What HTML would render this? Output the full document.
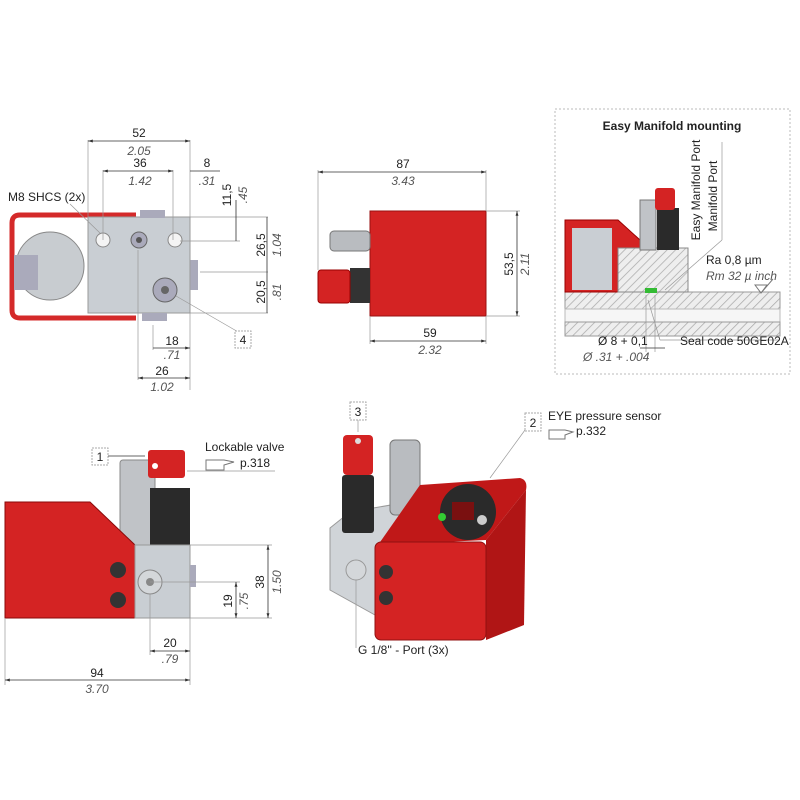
<!DOCTYPE html>
<html><head><meta charset="utf-8"><style>
body{margin:0;background:#fff}
svg{display:block}
text{font-family:"Liberation Sans",sans-serif;font-size:12px;fill:#222}
.i{font-style:italic;fill:#555}
.d{stroke:#333;stroke-width:0.8;fill:none}
.e{stroke:#999;stroke-width:0.7;fill:none}
</style></head><body>
<svg width="800" height="800" viewBox="0 0 800 800">
<defs>
<pattern id="h" width="6" height="6" patternUnits="userSpaceOnUse" patternTransform="rotate(45)"><rect width="6" height="6" fill="#eee"/><line x1="0" y1="0" x2="0" y2="6" stroke="#aaa" stroke-width="1.5"/></pattern>
<marker id="a" viewBox="0 0 10 10" refX="10" refY="5" markerWidth="6" markerHeight="6" orient="auto-start-reverse"><path d="M0,2L10,5L0,8z" fill="#333"/></marker>
</defs>

<!-- TOP LEFT VIEW -->
<path d="M136,215 H20 Q12,215 12,223 V310 Q12,318 20,318 H136" fill="none" stroke="#d42a2a" stroke-width="5"/>
<circle cx="50" cy="266" r="34" fill="#c8ccd0" stroke="#888"/>
<rect x="14" y="255" width="24" height="35" fill="#aab" />
<rect x="88" y="217" width="102" height="96" fill="#c9ced3" stroke="#999"/>
<rect x="140" y="210" width="25" height="8" fill="#aab"/>
<rect x="142" y="313" width="25" height="8" fill="#aab"/>
<rect x="190" y="260" width="8" height="30" fill="#aab"/>
<circle cx="103" cy="240" r="7" fill="#f4f4f4" stroke="#888"/>
<circle cx="175" cy="240" r="7" fill="#f4f4f4" stroke="#888"/>
<circle cx="139" cy="240" r="8" fill="#aab" stroke="#666"/>
<circle cx="139" cy="240" r="3" fill="#555"/>
<circle cx="165" cy="290" r="12" fill="#aab" stroke="#666"/>
<circle cx="165" cy="290" r="4" fill="#666"/>
<line class="e" x1="88" y1="140" x2="88" y2="217"/><line class="e" x1="190" y1="140" x2="190" y2="390"/>
<line class="d" x1="88" y1="141" x2="190" y2="141" marker-start="url(#a)" marker-end="url(#a)"/>
<text x="139" y="137" text-anchor="middle">52</text><text class="i" x="139" y="155" text-anchor="middle">2.05</text>
<line class="e" x1="103" y1="170" x2="103" y2="240"/><line class="e" x1="173" y1="170" x2="173" y2="240"/>
<line class="d" x1="103" y1="171" x2="173" y2="171" marker-start="url(#a)" marker-end="url(#a)"/>
<line class="d" x1="190" y1="171" x2="220" y2="171"/>
<text x="140" y="167" text-anchor="middle">36</text><text class="i" x="140" y="185" text-anchor="middle">1.42</text>
<text x="207" y="167" text-anchor="middle">8</text><text class="i" x="207" y="185" text-anchor="middle">.31</text>
<text x="8" y="201" font-size="12">M8 SHCS (2x)</text>
<line class="e" x1="70" y1="204" x2="100" y2="233"/>
<line class="e" x1="190" y1="217" x2="268" y2="217"/><line class="e" x1="180" y1="241" x2="240" y2="241"/>
<line class="e" x1="200" y1="272" x2="268" y2="272"/><line class="e" x1="190" y1="313" x2="268" y2="313"/>
<line class="d" x1="236" y1="200" x2="236" y2="241"/>
<line class="d" x1="267" y1="217" x2="267" y2="313"/>
<text transform="translate(231,195) rotate(-90)" text-anchor="middle">11,5</text>
<text class="i" transform="translate(247,195) rotate(-90)" text-anchor="middle">.45</text>
<text transform="translate(265,245) rotate(-90)" text-anchor="middle">26,5</text>
<text class="i" transform="translate(281,245) rotate(-90)" text-anchor="middle">1.04</text>
<text transform="translate(265,292) rotate(-90)" text-anchor="middle">20,5</text>
<text class="i" transform="translate(281,292) rotate(-90)" text-anchor="middle">.81</text>
<line class="e" x1="138" y1="250" x2="138" y2="380"/><line class="e" x1="153" y1="325" x2="153" y2="350"/>
<line class="d" x1="153" y1="348" x2="190" y2="348" marker-end="url(#a)"/>
<text x="172" y="345" text-anchor="middle">18</text><text class="i" x="172" y="359" text-anchor="middle">.71</text>
<line class="d" x1="138" y1="378" x2="190" y2="378" marker-start="url(#a)" marker-end="url(#a)"/>
<text x="162" y="375" text-anchor="middle">26</text><text class="i" x="162" y="391" text-anchor="middle">1.02</text>
<line class="e" x1="176" y1="296" x2="240" y2="333"/>
<rect x="235" y="331" width="16" height="17" fill="#fff" stroke="#aaa" stroke-dasharray="2,1"/>
<text x="243" y="344" text-anchor="middle">4</text>

<!-- TOP MIDDLE VIEW -->
<rect x="370" y="211" width="116" height="105" fill="#d42323" stroke="#9a1010"/>
<rect x="330" y="231" width="40" height="20" rx="4" fill="#b9bcc0" stroke="#777"/>
<rect x="350" y="268" width="20" height="35" fill="#333"/>
<rect x="318" y="270" width="32" height="33" rx="3" fill="#d42323" stroke="#900"/>
<line class="e" x1="318" y1="170" x2="318" y2="270"/><line class="e" x1="486" y1="170" x2="486" y2="211"/>
<line class="d" x1="318" y1="172" x2="486" y2="172" marker-start="url(#a)" marker-end="url(#a)"/>
<text x="403" y="168" text-anchor="middle">87</text><text class="i" x="403" y="185" text-anchor="middle">3.43</text>
<line class="e" x1="486" y1="211" x2="520" y2="211"/><line class="e" x1="486" y1="316" x2="520" y2="316"/>
<line class="d" x1="517" y1="211" x2="517" y2="316" marker-start="url(#a)" marker-end="url(#a)"/>
<text transform="translate(513,264) rotate(-90)" text-anchor="middle">53,5</text>
<text class="i" transform="translate(529,264) rotate(-90)" text-anchor="middle">2.11</text>
<line class="e" x1="370" y1="316" x2="370" y2="344"/><line class="e" x1="486" y1="316" x2="486" y2="344"/>
<line class="d" x1="370" y1="341" x2="486" y2="341" marker-start="url(#a)" marker-end="url(#a)"/>
<text x="430" y="337" text-anchor="middle">59</text><text class="i" x="430" y="354" text-anchor="middle">2.32</text>

<!-- RIGHT PANEL -->
<rect x="555" y="109" width="235" height="265" fill="none" stroke="#bbb" stroke-dasharray="2,2"/>
<text x="672" y="130" text-anchor="middle" font-weight="bold" font-size="13">Easy Manifold mounting</text>
<rect x="565" y="292" width="215" height="17" fill="url(#h)" stroke="#999"/>
<rect x="565" y="309" width="215" height="13" fill="#f6f6f6" stroke="#bbb"/>
<rect x="565" y="322" width="215" height="14" fill="url(#h)" stroke="#999"/>
<path d="M565,220 H618 L640,240 V292 H565Z" fill="#d42323" stroke="#900"/>
<rect x="572" y="228" width="40" height="62" fill="#c9ced3"/>
<rect x="618" y="248" width="70" height="44" fill="url(#h)" stroke="#888"/>
<rect x="640" y="200" width="16" height="50" fill="#c0c3c7" stroke="#777"/>
<rect x="657" y="208" width="22" height="42" fill="#2a2a2a"/>
<rect x="655" y="188" width="20" height="22" rx="3" fill="#d42323"/>
<rect x="645" y="288" width="12" height="5" fill="#3b3"/>
<text transform="translate(700,190) rotate(-90)" text-anchor="middle" font-size="12">Easy Manifold Port</text>
<text transform="translate(717,196) rotate(-90)" text-anchor="middle" font-size="12">Manifold Port</text>
<line class="e" x1="722" y1="142" x2="722" y2="240"/><line class="e" x1="722" y1="240" x2="665" y2="290"/>
<text x="706" y="264">Ra 0,8 µm</text>
<text class="i" x="706" y="280">Rm 32 µ inch</text>
<path d="M755,285 l6,8 l6,-8z M761,293 l12,-14" fill="none" stroke="#777"/>
<line class="e" x1="648" y1="300" x2="660" y2="340"/><line class="e" x1="660" y1="340" x2="780" y2="340"/>
<text x="680" y="345" font-size="12">Seal code 50GE02A</text>
<line class="e" x1="646" y1="295" x2="646" y2="352"/><line class="e" x1="655" y1="295" x2="655" y2="352"/>
<line class="d" x1="640" y1="348" x2="665" y2="348"/>
<text x="598" y="345">Ø 8 + 0,1</text>
<text class="i" x="583" y="361">Ø .31 + .004</text>

<!-- BOTTOM LEFT VIEW -->
<rect x="120" y="460" width="35" height="88" rx="3" fill="#c0c3c7" stroke="#888"/>
<rect x="150" y="488" width="40" height="58" fill="#2a2a2a"/>
<rect x="148" y="450" width="37" height="28" rx="3" fill="#d42323"/>
<circle cx="155" cy="466" r="3" fill="#fff"/>
<path d="M5,502 H90 L135,545 V618 H5Z" fill="#d42323" stroke="#8a0a0a"/>
<rect x="135" y="545" width="55" height="73" fill="#c9ced3" stroke="#999"/>
<rect x="190" y="565" width="6" height="22" fill="#aab"/>
<circle cx="118" cy="570" r="8" fill="#333"/><circle cx="118" cy="600" r="8" fill="#333"/>
<circle cx="150" cy="582" r="12" fill="#d4d7da" stroke="#888"/><circle cx="150" cy="582" r="4" fill="#888"/>
<rect x="92" y="448" width="16" height="17" fill="#fff" stroke="#aaa" stroke-dasharray="2,1"/>
<text x="100" y="461" text-anchor="middle">1</text>
<line class="d" x1="108" y1="456" x2="145" y2="456"/>
<text x="205" y="451">Lockable valve</text>
<text x="240" y="467">p.318</text>
<path d="M206,460 h18 l10,2 l-10,3 v5 h-18z" fill="none" stroke="#777"/>
<line class="e" x1="187" y1="471" x2="275" y2="471"/>
<line class="e" x1="190" y1="545" x2="272" y2="545"/><line class="e" x1="190" y1="618" x2="272" y2="618"/>
<line class="e" x1="150" y1="582" x2="240" y2="582"/>
<line class="d" x1="268" y1="545" x2="268" y2="618" marker-start="url(#a)" marker-end="url(#a)"/>
<line class="d" x1="236" y1="582" x2="236" y2="618" marker-start="url(#a)" marker-end="url(#a)"/>
<text transform="translate(264,582) rotate(-90)" text-anchor="middle">38</text>
<text class="i" transform="translate(281,582) rotate(-90)" text-anchor="middle">1.50</text>
<text transform="translate(232,601) rotate(-90)" text-anchor="middle">19</text>
<text class="i" transform="translate(248,601) rotate(-90)" text-anchor="middle">.75</text>
<line class="e" x1="150" y1="594" x2="150" y2="655"/><line class="e" x1="190" y1="618" x2="190" y2="685"/>
<line class="e" x1="5" y1="618" x2="5" y2="685"/>
<line class="d" x1="150" y1="651" x2="190" y2="651" marker-start="url(#a)" marker-end="url(#a)"/>
<text x="170" y="647" text-anchor="middle">20</text><text class="i" x="170" y="663" text-anchor="middle">.79</text>
<line class="d" x1="5" y1="680" x2="190" y2="680" marker-start="url(#a)" marker-end="url(#a)"/>
<text x="97" y="677" text-anchor="middle">94</text><text class="i" x="97" y="693" text-anchor="middle">3.70</text>

<!-- BOTTOM MIDDLE ISO -->
<path d="M330,528 L350,512 L420,500 L420,600 L375,615 L330,590Z" fill="#d0d4d8" stroke="#999"/>
<rect x="342" y="475" width="32" height="58" rx="3" fill="#2a2a2a"/>
<rect x="343" y="435" width="30" height="40" rx="4" fill="#d42323"/>
<circle cx="358" cy="441" r="3" fill="#ddd"/>
<rect x="390" y="440" width="30" height="75" rx="5" fill="#b9bcc0" stroke="#777"/>
<path d="M420,485 L520,478 Q528,480 526,490 L486,540 L378,545Z" fill="#c01818"/>
<path d="M486,540 L526,490 L524,625 L486,640Z" fill="#b01515"/>
<rect x="375" y="542" width="111" height="98" rx="6" fill="#d42323" stroke="#901010"/>
<circle cx="468" cy="512" r="28" fill="#2a2a2a"/>
<rect x="452" y="502" width="22" height="18" fill="#7a1010"/>
<circle cx="442" cy="517" r="4" fill="#3c3"/>
<circle cx="482" cy="520" r="5" fill="#ccc"/>
<circle cx="386" cy="572" r="7" fill="#333"/><circle cx="386" cy="598" r="7" fill="#333"/>
<circle cx="356" cy="570" r="10" fill="#d4d7da" stroke="#999"/>
<rect x="350" y="402" width="16" height="18" fill="#fff" stroke="#aaa" stroke-dasharray="2,1"/>
<text x="358" y="416" text-anchor="middle">3</text>
<line class="e" x1="358" y1="420" x2="358" y2="432"/>
<rect x="525" y="413" width="16" height="18" fill="#fff" stroke="#aaa" stroke-dasharray="2,1"/>
<text x="533" y="427" text-anchor="middle">2</text>
<line class="e" x1="525" y1="430" x2="490" y2="478"/>
<text x="548" y="420">EYE pressure sensor</text>
<path d="M549,430 h16 l8,2 l-8,3 v4 h-16z" fill="none" stroke="#777"/>
<text x="576" y="435">p.332</text>
<line class="e" x1="356" y1="580" x2="356" y2="648"/>
<text x="358" y="654">G 1/8'' - Port (3x)</text>
</svg>
</body></html>
